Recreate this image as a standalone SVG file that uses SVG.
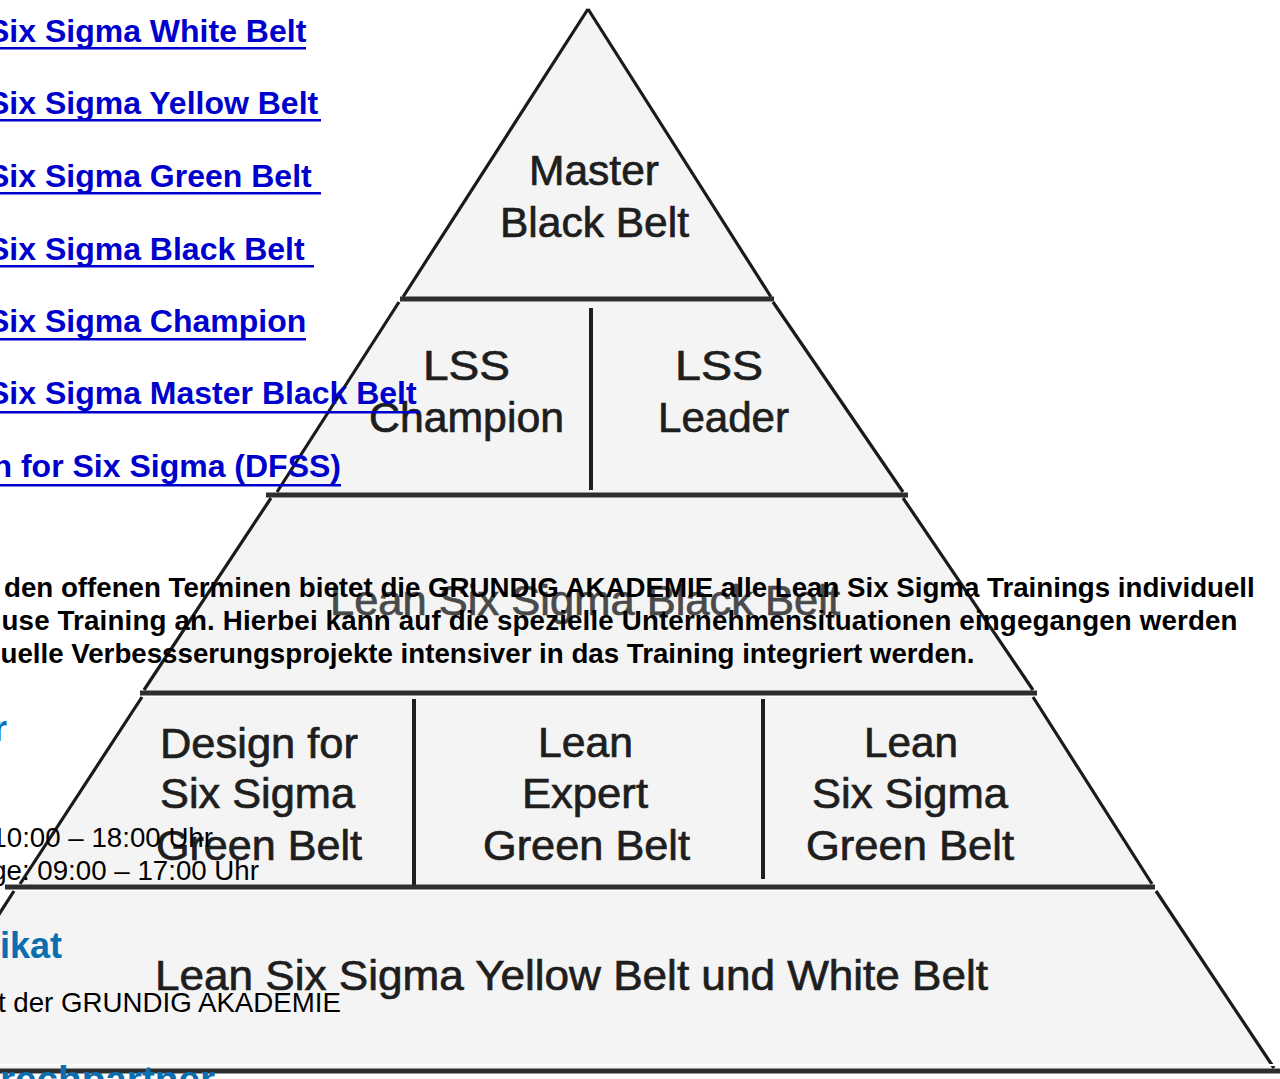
<svg xmlns="http://www.w3.org/2000/svg" width="1280" height="1079" viewBox="0 0 1280 1079">
<style>
.fill{fill:#f4f4f4;stroke:none}
.edge{stroke:#1a1a1a;stroke-width:3.2;fill:none}
.bar{stroke:#2e2e2e;stroke-width:5;fill:none}
.div{stroke:#1e1e1e;stroke-width:4;fill:none}
.lbl{font-family:"Liberation Sans",Arial,sans-serif;font-size:42px;fill:#1e1e1e;stroke:#1e1e1e;stroke-width:0.7}
.lnk{font-family:"Liberation Sans",Arial,sans-serif;font-size:32px;font-weight:bold;fill:#0000cc}
.ul{fill:#0000cc}
.pb{font-family:"Liberation Sans",Arial,sans-serif;font-size:27.7px;font-weight:bold;fill:#000}
.pr{font-family:"Liberation Sans",Arial,sans-serif;font-size:27.7px;fill:#000}
.hd{font-family:"Liberation Sans",Arial,sans-serif;font-size:36px;font-weight:bold;fill:#0a6eb0}
</style>
<rect x="0" y="0" width="1280" height="1079" fill="#ffffff"/>
<g id="pyramid">
<g id="tier-master-black-belt">
<polygon class="fill" points="588,10 771,298 403,298"/>
<line class="edge" x1="588" y1="9" x2="403" y2="297"/>
<line class="edge" x1="588" y1="9" x2="771" y2="297"/>
<line class="bar" x1="400" y1="299" x2="774" y2="299"/>
<text class="lbl" x="529" y="185" textLength="130" lengthAdjust="spacingAndGlyphs">Master</text>
<text class="lbl" x="500" y="237" textLength="189" lengthAdjust="spacingAndGlyphs">Black Belt</text>
</g>
<g id="tier-lss">
<polygon class="fill" points="399,302 773,302 903,493 277,493"/>
<line class="edge" x1="399" y1="302" x2="277" y2="492"/>
<line class="edge" x1="773" y1="302" x2="903" y2="492"/>
<line class="div" x1="591" y1="308" x2="591" y2="490"/>
<line class="bar" x1="266" y1="495" x2="908" y2="495"/>
<text class="lbl" x="423" y="380" textLength="87" lengthAdjust="spacingAndGlyphs">LSS</text>
<text class="lbl" x="369" y="432" textLength="195" lengthAdjust="spacingAndGlyphs">Champion</text>
<text class="lbl" x="675" y="380" textLength="88" lengthAdjust="spacingAndGlyphs">LSS</text>
<text class="lbl" x="658" y="432" textLength="131" lengthAdjust="spacingAndGlyphs">Leader</text>
</g>
<g id="tier-black-belt">
<polygon class="fill" points="271,498 903,498 1033,691 144,691"/>
<line class="edge" x1="271" y1="498" x2="144" y2="690"/>
<line class="edge" x1="903" y1="498" x2="1033" y2="690"/>
<line class="bar" x1="140" y1="693" x2="1037" y2="693"/>
<text class="lbl" x="330" y="615" textLength="510" lengthAdjust="spacingAndGlyphs" style="fill:#4a4a4a;stroke:#4a4a4a">Lean Six Sigma Black Belt</text>
</g>
<g id="tier-green-belt">
<polygon class="fill" points="142,697 1033,697 1152,885 20,885"/>
<line class="edge" x1="142" y1="697" x2="20" y2="884"/>
<line class="edge" x1="1033" y1="697" x2="1152" y2="884"/>
<line class="div" x1="414" y1="699" x2="414" y2="886"/>
<line class="div" x1="763" y1="699" x2="763" y2="879"/>
<line class="bar" x1="5" y1="887" x2="1155" y2="887"/>
<text class="lbl" x="160" y="758" textLength="198" lengthAdjust="spacingAndGlyphs">Design for</text>
<text class="lbl" x="160" y="808" textLength="195" lengthAdjust="spacingAndGlyphs">Six Sigma</text>
<text class="lbl" x="156" y="860" textLength="206" lengthAdjust="spacingAndGlyphs">Green Belt</text>
<text class="lbl" x="538" y="757" textLength="95" lengthAdjust="spacingAndGlyphs">Lean</text>
<text class="lbl" x="522" y="808" textLength="126" lengthAdjust="spacingAndGlyphs">Expert</text>
<text class="lbl" x="483" y="860" textLength="207" lengthAdjust="spacingAndGlyphs">Green Belt</text>
<text class="lbl" x="864" y="757" textLength="94" lengthAdjust="spacingAndGlyphs">Lean</text>
<text class="lbl" x="812" y="808" textLength="196" lengthAdjust="spacingAndGlyphs">Six Sigma</text>
<text class="lbl" x="806" y="860" textLength="208" lengthAdjust="spacingAndGlyphs">Green Belt</text>
</g>
<g id="tier-yellow-white-belt">
<polygon class="fill" points="14,891 1156,891 1274,1068 -100,1068"/>
<line class="edge" x1="14" y1="891" x2="-100" y2="1068"/>
<line class="edge" x1="1156" y1="891" x2="1274" y2="1068"/>
<line x1="-20" y1="1065" x2="1280" y2="1065" stroke="#ffffff" stroke-width="2"/>
<line class="bar" x1="-20" y1="1071" x2="1280" y2="1071"/>
<text class="lbl" x="155" y="990" textLength="833" lengthAdjust="spacingAndGlyphs">Lean Six Sigma Yellow Belt und White Belt</text>
</g>
</g>
<g id="links">
<text class="lnk" x="-12" y="42">Six Sigma White Belt</text>
<rect class="ul" x="0" y="47" width="306" height="2.5"/>
<text class="lnk" x="-12" y="114">Six Sigma Yellow Belt</text>
<rect class="ul" x="0" y="119" width="321" height="2.5"/>
<text class="lnk" x="-12" y="187">Six Sigma Green Belt</text>
<rect class="ul" x="0" y="192" width="321" height="2.5"/>
<text class="lnk" x="-12" y="260">Six Sigma Black Belt</text>
<rect class="ul" x="0" y="265" width="314" height="2.5"/>
<text class="lnk" x="-12" y="332">Six Sigma Champion</text>
<rect class="ul" x="0" y="338" width="306" height="2.5"/>
<text class="lnk" x="-12" y="404">Six Sigma Master Black Belt</text>
<rect class="ul" x="0" y="411" width="419" height="2.5"/>
<text class="lnk" x="-7.5" y="477">n for Six Sigma (DFSS)</text>
<rect class="ul" x="0" y="484" width="341" height="2.5"/>
</g>
<g id="paragraph">
<text class="pb" x="4" y="597">den offenen Terminen bietet die GRUNDIG AKADEMIE alle Lean Six Sigma Trainings individuell</text>
<text class="pb" x="1.5" y="630" textLength="1236" lengthAdjust="spacing">use Training an. Hierbei kann auf die spezielle Unternehmensituationen eingegangen werden</text>
<text class="pb" x="0.5" y="663">uelle Verbessserungsprojekte intensiver in das Training integriert werden.</text>
</g>
<g id="details">
<text class="hd" x="-7" y="741">r</text>
<text class="pr" x="213" y="847" text-anchor="end">10:00 – 18:00 Uhr</text>
<text class="pr" x="259" y="880" text-anchor="end">ge: 09:00 – 17:00 Uhr</text>
<text class="hd" x="0" y="958">ikat</text>
<text class="pr" x="341" y="1012" text-anchor="end">t der GRUNDIG AKADEMIE</text>
<text class="hd" x="0" y="1092" textLength="215" lengthAdjust="spacingAndGlyphs">rechpartner</text>
</g>
</svg>
